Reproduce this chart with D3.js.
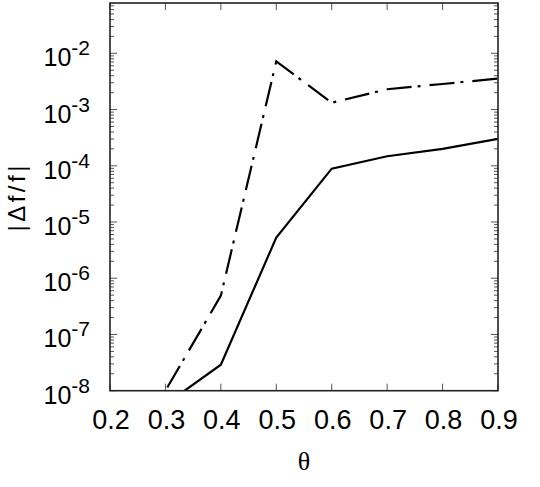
<!DOCTYPE html>
<html>
<head>
<meta charset="utf-8">
<script src="https://cdn.jsdelivr.net/npm/d3@7"></script>
<style>
  html, body { margin: 0; padding: 0; background: #fff; }
  svg { display: block; }
  text { font-family: "Liberation Sans", Arial, sans-serif; fill: #000; }
</style>
</head>
<body>
<svg id="chart" width="540" height="487"></svg>
<script>
// ---- data ----
const theta = [0.2, 0.3, 0.4, 0.5, 0.6, 0.7, 0.8, 0.9];
const solidValues = [2e-10, 5.7e-9, 2.9e-8, 5.3e-6, 8.9e-5, 1.48e-4, 2.0e-4, 3.0e-4];
const dashDotValues = [1e-10, 1e-8, 4.9e-7, 7.2e-3, 1.32e-3, 2.3e-3, 2.85e-3, 3.55e-3];
const xTickValues = [0.2, 0.3, 0.4, 0.5, 0.6, 0.7, 0.8, 0.9];
const xTickLabels = ["0.2", "0.3", "0.4", "0.5", "0.6", "0.7", "0.8", "0.9"];
const yTickExponents = [-8, -7, -6, -5, -4, -3, -2];
const xLabel = "θ";
const yLabel = "|Δf/f|";

// ---- layout ----
const plotLeft = 110, plotRight = 498, plotTop = 3, plotBottom = 390.7;

const svg = d3.select("#chart");
const x = d3.scaleLinear().domain([0.2, 0.9]).range([plotLeft, plotRight]);
const y = d3.scaleLog().domain([1e-8, Math.pow(10, -1.105)]).range([plotBottom, plotTop]);

// clip
svg.append("defs").append("clipPath").attr("id", "clip")
  .append("rect").attr("x", plotLeft).attr("y", plotTop)
  .attr("width", plotRight - plotLeft).attr("height", plotBottom - plotTop);

// ticks
const tickColor = "#555";
const g = svg.append("g");
xTickValues.forEach(v => {
  const px = x(v);
  g.append("line").attr("x1", px).attr("x2", px).attr("y1", plotBottom).attr("y2", plotBottom - 7)
    .attr("stroke", tickColor).attr("stroke-width", 1);
  g.append("line").attr("x1", px).attr("x2", px).attr("y1", plotTop).attr("y2", plotTop + 7)
    .attr("stroke", tickColor).attr("stroke-width", 1);
});
const yDomain = y.domain();
for (let e = -8; e <= -1; e++) {
  for (let m = 1; m <= 9; m++) {
    const v = m * Math.pow(10, e);
    if (v < yDomain[0] * 0.999 || v > yDomain[1]) continue;
    const py = y(v);
    const len = m === 1 ? 7 : 4;
    g.append("line").attr("x1", plotLeft).attr("x2", plotLeft + len).attr("y1", py).attr("y2", py)
      .attr("stroke", tickColor).attr("stroke-width", 1);
    g.append("line").attr("x1", plotRight).attr("x2", plotRight - len).attr("y1", py).attr("y2", py)
      .attr("stroke", tickColor).attr("stroke-width", 1);
  }
}

// x tick labels
xTickValues.forEach((v, i) => {
  svg.append("text").attr("x", x(v) + 1).attr("y", 428.5)
    .attr("text-anchor", "middle").attr("font-size", 27)
    .text(xTickLabels[i]);
});

// y tick labels
yTickExponents.forEach(e => {
  const py = y(Math.pow(10, e));
  const t = svg.append("text").attr("x", 90).attr("y", py + 13)
    .attr("text-anchor", "end").attr("font-size", 25);
  t.append("tspan").text("10");
  t.append("tspan").attr("dy", -11).attr("font-size", 21).text(String(e));
});

// axis labels
svg.append("text").attr("x", (plotLeft + plotRight) / 2).attr("y", 470)
  .attr("text-anchor", "middle").attr("font-size", 26)
  .style("font-family", "'Liberation Serif', 'DejaVu Serif', serif")
  .text(xLabel);
svg.append("text")
  .attr("transform", `translate(25,${(plotTop + plotBottom) / 2}) rotate(-90)`)
  .attr("text-anchor", "middle").attr("font-size", 24)
  .attr("letter-spacing", 3.5)
  .text(yLabel);

// lines
const line = d3.line().x(d => x(d[0])).y(d => y(d[1]));
const plot = svg.append("g").attr("clip-path", "url(#clip)");
plot.append("path")
  .datum(theta.map((t, i) => [t, solidValues[i]]))
  .attr("d", line).attr("fill", "none").attr("stroke", "#000")
  .attr("stroke-width", 2.2).attr("stroke-linejoin", "miter");
plot.append("path")
  .datum(theta.map((t, i) => [t, dashDotValues[i]]))
  .attr("d", line).attr("fill", "none").attr("stroke", "#000")
  .attr("stroke-width", 2.2).attr("stroke-dasharray", "25,6,3,9");

// frame
svg.append("rect").attr("x", plotLeft).attr("y", plotTop)
  .attr("width", plotRight - plotLeft).attr("height", plotBottom - plotTop)
  .attr("fill", "none").attr("stroke", "#222").attr("stroke-width", 1.6);
</script>
</body>
</html>
